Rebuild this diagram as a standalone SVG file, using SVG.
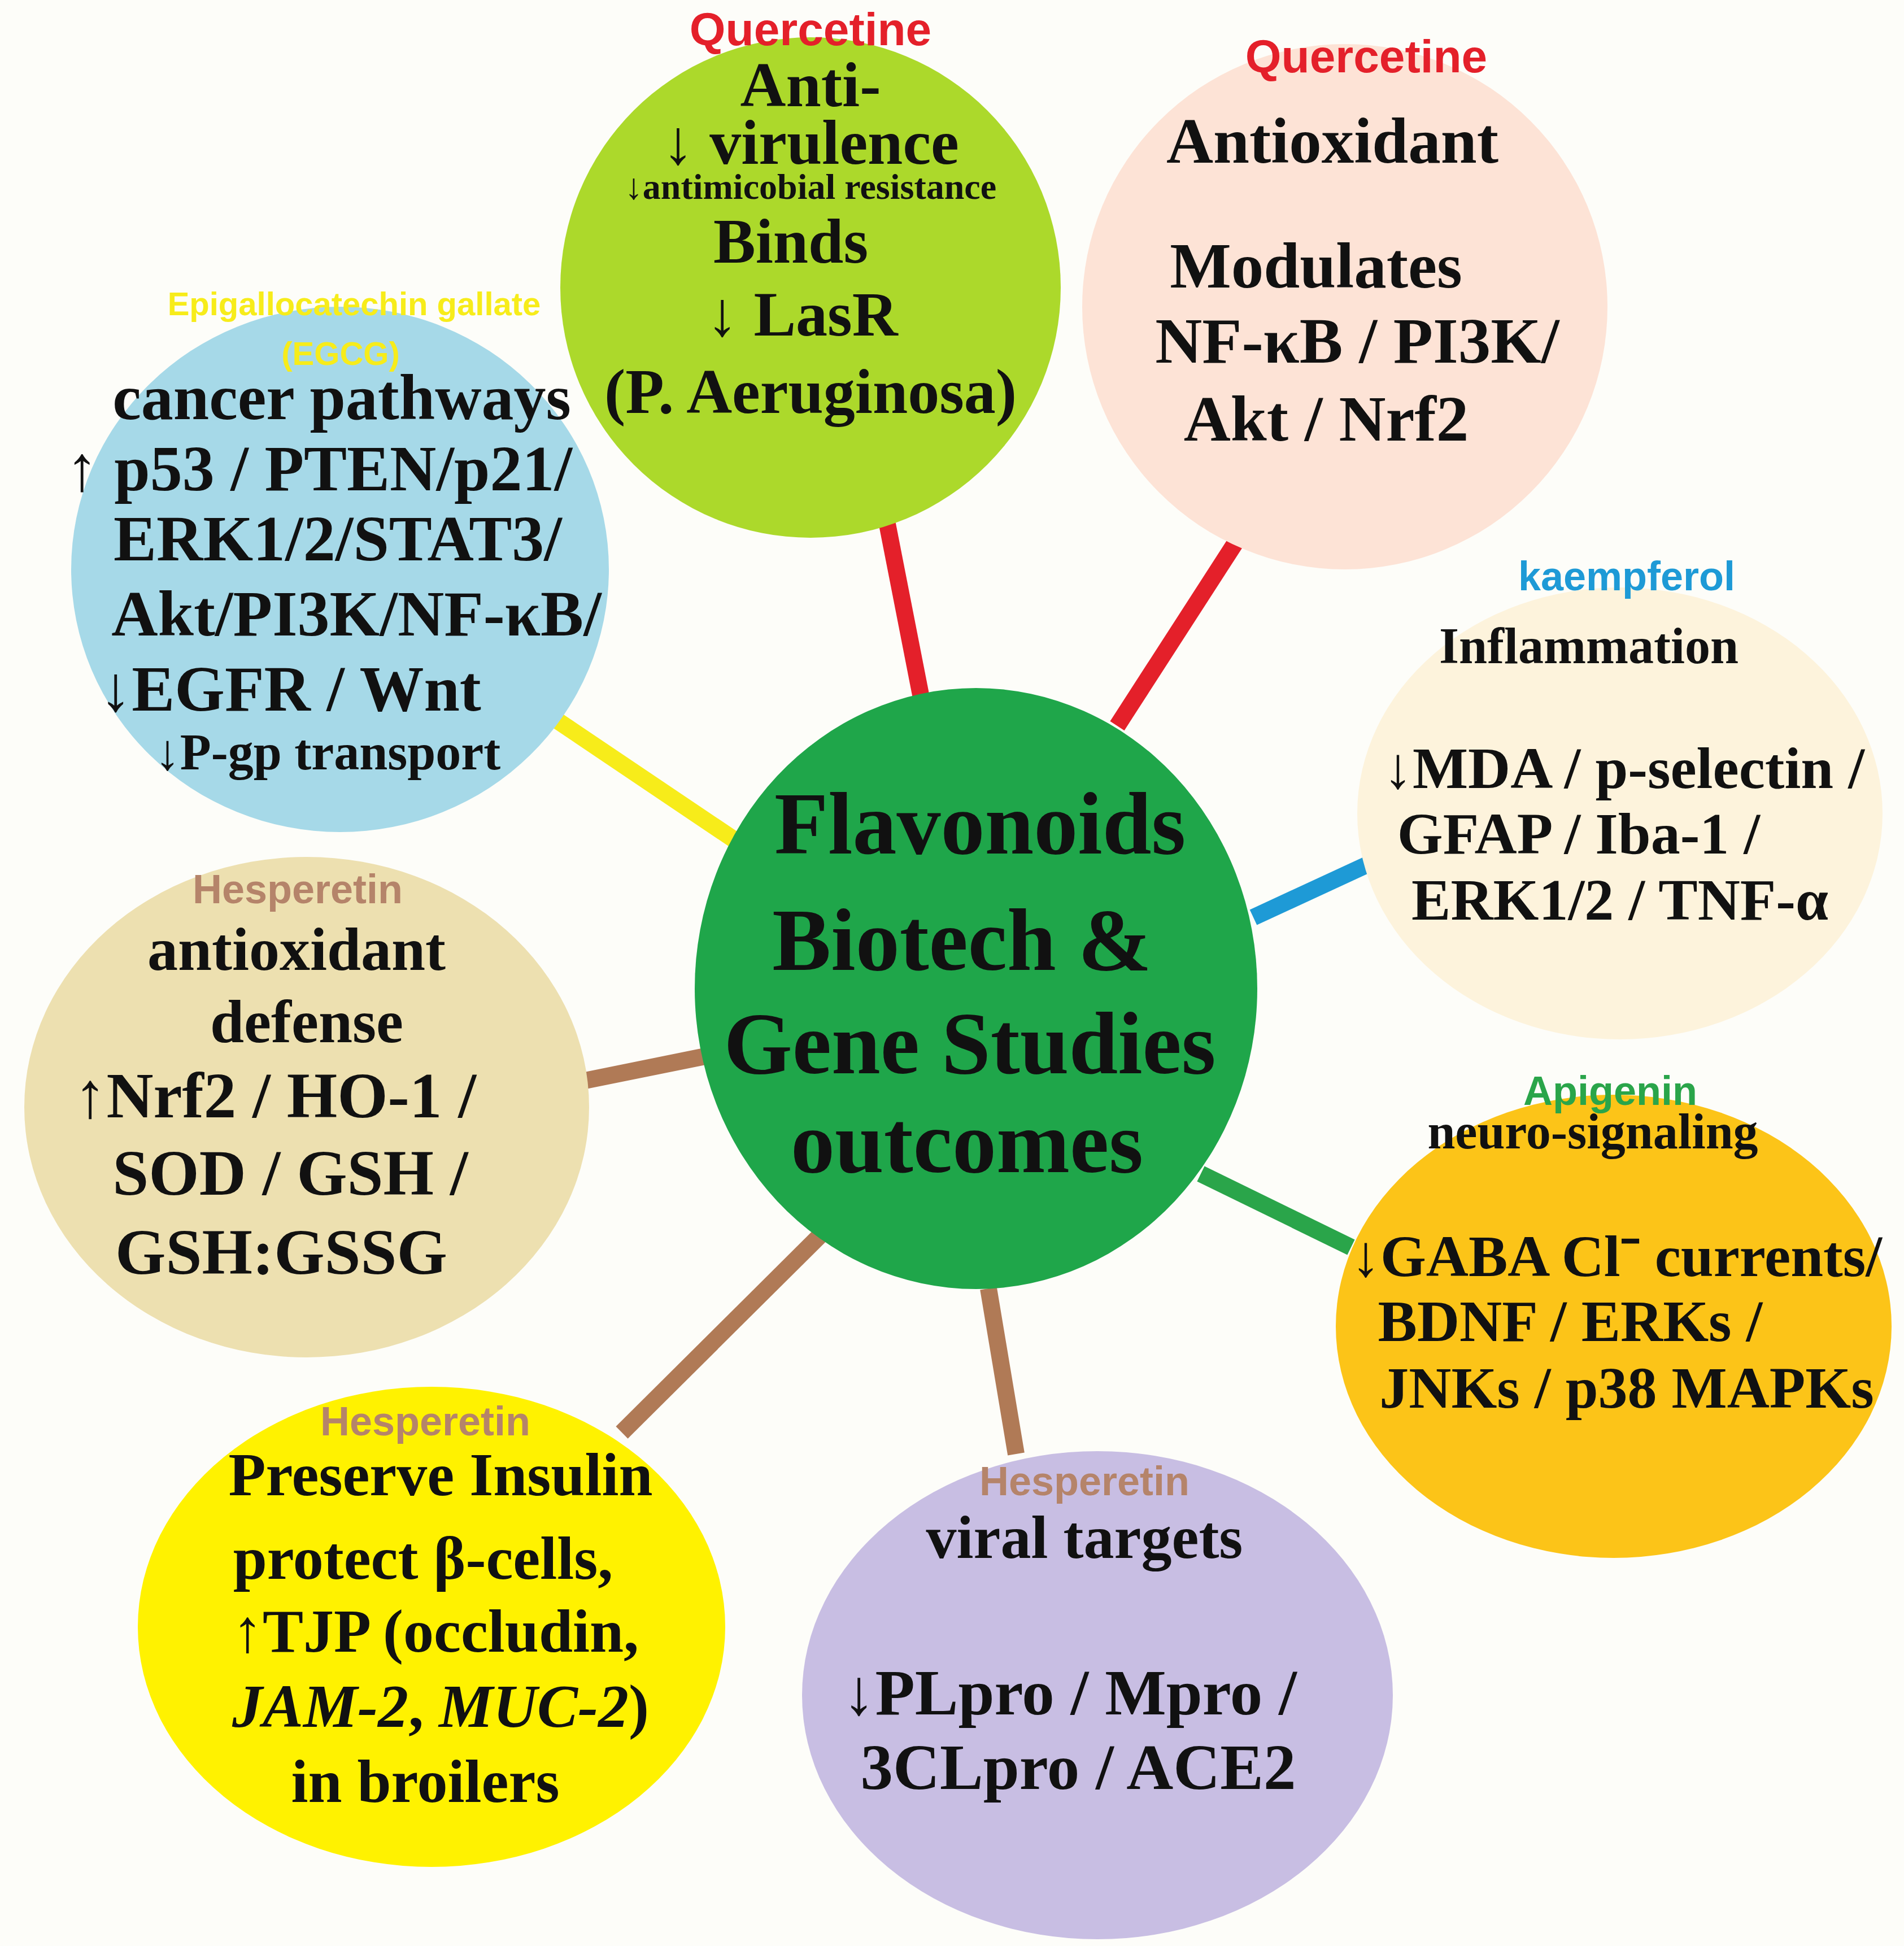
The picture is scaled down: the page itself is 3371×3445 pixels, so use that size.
<svg xmlns="http://www.w3.org/2000/svg" width="3371" height="3445" viewBox="0 0 3371 3445">
<style>
.t{font-family:"Liberation Serif",serif;font-weight:bold;text-anchor:middle;fill:#111}
.l{font-family:"Liberation Sans",Arial,sans-serif;font-weight:bold;text-anchor:middle}
.c{stroke-width:30;stroke-linecap:butt}
</style>
<rect width="3371" height="3445" fill="#fdfdf9"/>
<g id="connectors">
<line class="c" x1="1562" y1="882" x2="1633" y2="1245" stroke="#e4202a"/>
<line class="c" x1="2193" y1="952" x2="1978" y2="1285" stroke="#e4202a"/>
<line class="c" x1="968" y1="1263" x2="1302" y2="1488" stroke="#f7ec1a"/>
<line class="c" x1="2459" y1="1513" x2="2219" y2="1624" stroke="#1e9ad6"/>
<line class="c" x1="2126" y1="2078" x2="2392" y2="2208" stroke="#2aa54a"/>
<line class="c" x1="986" y1="1923" x2="1263" y2="1867" stroke="#b07a56"/>
<line class="c" x1="1451" y1="2188" x2="1101" y2="2536" stroke="#b07a56"/>
<line class="c" x1="1750" y1="2281" x2="1799" y2="2574" stroke="#b07a56"/>
</g>
<g id="antivirulence">
<circle cx="1435" cy="509" r="443" fill="#acd92b"/>
<text class="l" x="1435" y="80" font-size="82" fill="#e4202a">Quercetine</text>
<text class="t" x="1435" y="188" font-size="112">Anti-</text>
<text class="t" x="1435" y="290" font-size="112">↓ virulence</text>
<text class="t" x="1435" y="352" font-size="64">↓antimicobial resistance</text>
<text class="t" x="1400" y="465" font-size="112">Binds</text>
<text class="t" x="1420" y="594" font-size="112">↓ LasR</text>
<text class="t" x="1435" y="731" font-size="112">(P. Aeruginosa)</text>
</g>
<g id="antioxidant">
<circle cx="2381" cy="543" r="465" fill="#fde3d6"/>
<text class="l" x="2419" y="128" font-size="82" fill="#e4202a">Quercetine</text>
<text class="t" x="2359" y="288" font-size="115">Antioxidant</text>
<text class="t" x="2330" y="509" font-size="115">Modulates</text>
<text class="t" x="2403" y="642" font-size="115">NF-κB / PI3K/</text>
<text class="t" x="2348" y="780" font-size="115">Akt / Nrf2</text>
</g>
<g id="egcg">
<ellipse cx="602" cy="1008" rx="476" ry="465" fill="#a6d9e8"/>
<text class="l" x="627" y="558" font-size="58" fill="#f7ec1a">Epigallocatechin gallate</text>
<text class="l" x="603" y="646" font-size="58" fill="#f7ec1a">(EGCG)</text>
<text class="t" x="605" y="742" font-size="114">cancer pathways</text>
<text class="t" x="565" y="868" font-size="114">↑ p53 / PTEN/p21/</text>
<text class="t" x="598" y="992" font-size="114">ERK1/2/STAT3/</text>
<text class="t" x="631" y="1125" font-size="114">Akt/PI3K/NF-κB/</text>
<text class="t" x="514" y="1258" font-size="114">↓EGFR / Wnt</text>
<text class="t" x="580" y="1362" font-size="90">↓P-gp transport</text>
</g>
<g id="kaempferol">
<ellipse cx="2868" cy="1440" rx="465" ry="400" fill="#fdf3dc"/>
<text class="l" x="2880" y="1045" font-size="72" fill="#1e9ad6">kaempferol</text>
<text class="t" x="2813" y="1174" font-size="90">Inflammation</text>
<text class="t" x="2875" y="1395" font-size="104">↓MDA / p-selectin /</text>
<text class="t" x="2795" y="1511" font-size="104">GFAP / Iba-1 /</text>
<text class="t" x="2868" y="1628" font-size="104">ERK1/2 / TNF-α</text>
</g>
<g id="center">
<ellipse cx="1728" cy="1750" rx="498" ry="532" fill="#1fa64a"/>
<text class="t" x="1735" y="1511" font-size="156">Flavonoids</text>
<text class="t" x="1703" y="1717" font-size="156">Biotech &amp;</text>
<text class="t" x="1717" y="1900" font-size="156">Gene Studies</text>
<text class="t" x="1712" y="2075" font-size="156">outcomes</text>
</g>
<g id="hesperetin-defense">
<ellipse cx="543" cy="1960" rx="500" ry="443" fill="#ede0b0"/>
<text class="l" x="527" y="1599" font-size="72" fill="#b5846a">Hesperetin</text>
<text class="t" x="525" y="1717" font-size="108">antioxidant</text>
<text class="t" x="543" y="1845" font-size="108">defense</text>
<text class="t" x="487" y="1978" font-size="115">↑Nrf2 / HO-1 /</text>
<text class="t" x="514" y="2115" font-size="115">SOD / GSH /</text>
<text class="t" x="498" y="2255" font-size="115">GSH:GSSG</text>
</g>
<g id="apigenin">
<ellipse cx="2857" cy="2348" rx="492" ry="410" fill="#fcc418"/>
<text class="l" x="2851" y="1956" font-size="72" fill="#2aa54a">Apigenin</text>
<text class="t" x="2820" y="2033" font-size="88">neuro-signaling</text>
<text class="t" x="2862" y="2259" font-size="104">↓GABA Cl⁻ currents/</text>
<text class="t" x="2780" y="2374" font-size="104">BDNF / ERKs /</text>
<text class="t" x="2880" y="2492" font-size="104">JNKs / p38 MAPKs</text>
</g>
<g id="hesperetin-insulin">
<ellipse cx="764" cy="2880" rx="520" ry="425" fill="#fff200"/>
<text class="l" x="753" y="2541" font-size="72" fill="#b5846a">Hesperetin</text>
<text class="t" x="780" y="2647" font-size="108">Preserve Insulin</text>
<text class="t" x="749" y="2795" font-size="108">protect β-cells,</text>
<text class="t" x="771" y="2924" font-size="108">↑TJP (occludin,</text>
<text class="t" x="780" y="3057" font-size="108"><tspan font-style="italic">JAM-2</tspan>, <tspan font-style="italic">MUC-2</tspan>)</text>
<text class="t" x="753" y="3190" font-size="108">in broilers</text>
</g>
<g id="hesperetin-viral">
<ellipse cx="1943" cy="3001" rx="523" ry="432" fill="#c8bee3"/>
<text class="l" x="1920" y="2647" font-size="72" fill="#b5846a">Hesperetin</text>
<text class="t" x="1920" y="2758" font-size="108">viral targets</text>
<text class="t" x="1894" y="3035" font-size="115">↓PLpro / Mpro /</text>
<text class="t" x="1909" y="3167" font-size="115">3CLpro / ACE2</text>
</g>
</svg>
